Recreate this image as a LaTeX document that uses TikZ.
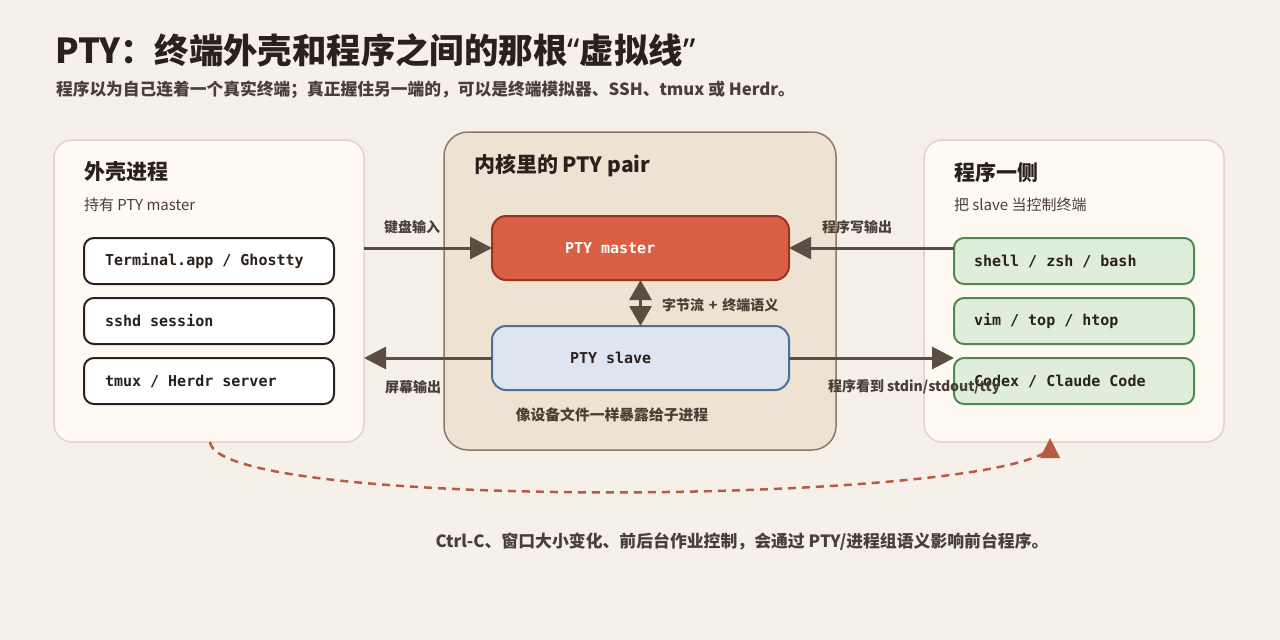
\documentclass[tikz,border=0pt]{standalone}
\usepackage{fontspec}
\setmainfont{Noto Sans CJK SC}
\setmonofont{DejaVu Sans Mono}
\newfontfamily\latinq{Noto Sans}
\usetikzlibrary{arrows.meta}
\definecolor{bgcol}{HTML}{F5F1EA}
\definecolor{ink}{HTML}{2A211C}
\definecolor{subink}{HTML}{4A3F37}
\definecolor{panelfill}{HTML}{FEFAF3}
\definecolor{panelline}{HTML}{E0D4C2}
\definecolor{kfill}{HTML}{EEE2D2}
\definecolor{kline}{HTML}{8B7867}
\definecolor{mfill}{HTML}{D95F45}
\definecolor{mline}{HTML}{9A3322}
\definecolor{sfill}{HTML}{DFE5F0}
\definecolor{sline}{HTML}{4E6F96}
\definecolor{gfill}{HTML}{DFEEDB}
\definecolor{gline}{HTML}{4E8A4E}
\definecolor{arrcol}{HTML}{5B4D43}
\definecolor{dashcol}{HTML}{B85A44}
\newcommand\monofont{\ttfamily\bfseries\fontsize{15}{18}\selectfont}
\newcommand\msp{\hbox to 0.602em{}}
\begin{document}
\begin{tikzpicture}[x=1pt,y=-1pt,
  every node/.style={inner sep=0pt, outer sep=0pt},
  panel/.style={draw=panelline, fill=panelfill, line width=1.5pt, rounded corners=18pt, anchor=north west},
  kpanel/.style={draw=kline, fill=kfill, line width=1.5pt, rounded corners=24pt, anchor=north west},
  shellbox/.style={draw=ink, fill=white, line width=2pt, rounded corners=10pt, anchor=north west,
    inner xsep=21pt, text width=208pt, minimum height=46pt, align=left, text=ink, font=\monofont},
  progbox/.style={draw=gline, fill=gfill, line width=2pt, rounded corners=10pt, anchor=north west,
    inner xsep=20pt, text width=200pt, minimum height=46pt, align=left, text=ink, font=\monofont},
  ptybox/.style={line width=2pt, rounded corners=14pt, anchor=north west, minimum height=64pt,
    align=left, font=\monofont},
  ptitle/.style={anchor=west, text=ink, font=\bfseries\fontsize{21}{25}\selectfont},
  psub/.style={anchor=west, text=subink, font=\fontsize{15}{18}\selectfont},
  lbl/.style={text=subink, font=\bfseries\fontsize{14}{17}\selectfont},
  arr/.style={draw=arrcol, line width=3pt, -{Triangle[length=22pt,width=22pt]}},
]
\fill[bgcol] (0,0) rectangle (1280,640);
\useasboundingbox (0,0) rectangle (1280,640);

% titles
\node[anchor=west, text=ink, font=\bfseries\fontsize{34.4}{41}\selectfont] (title) at (55,50) {PTY：终端外壳和程序之间的那根{\latinq “}虚拟线{\latinq ”}};
\node[anchor=west, text=subink, font=\bfseries\fontsize{16.75}{20}\selectfont] (subtitle) at (56,90) {程序以为自己连着一个真实终端；真正握住另一端的，可以是终端模拟器、SSH、tmux 或 Herdr。};

% panels
\node[panel, minimum width=310pt, minimum height=302pt] (left) at (54,140) {};
\node[kpanel, minimum width=392pt, minimum height=318pt] (kernel) at (444,132) {};
\node[panel, minimum width=300pt, minimum height=302pt] (right) at (924,140) {};

\node[ptitle] (lt) at (84,172) {外壳进程};
\node[psub] (ls) at (84,205) {持有 PTY master};
\node[ptitle] (kt) at (474,166) {内核里的 PTY pair};
\node[ptitle] (rt) at (954,172) {程序一侧};
\node[psub] (rs) at (954,205) {把 slave 当控制终端};

% left boxes
\node[shellbox] (term) at (84,238) {Terminal.app\msp/\msp Ghostty};
\node[shellbox] (sshd) at (84,298) {sshd\msp session};
\node[shellbox] (tmux) at (84,358) {tmux\msp/\msp Herdr\msp server};

% right boxes
\node[progbox] (shell) at (954,238) {shell\msp/\msp zsh\msp/\msp bash};
\node[progbox] (vim) at (954,298) {vim\msp/\msp top\msp/\msp htop};
\node[progbox] (codex) at (954,358) {Codex\msp/\msp Claude\msp Code};

% pty pair
\node[ptybox, draw=mline, fill=mfill, text=white, inner xsep=73pt, text width=151pt] (master) at (492,216) {PTY\msp master};
\node[ptybox, draw=sline, fill=sfill, text=ink, inner xsep=78pt, text width=141pt] (slave) at (492,326) {PTY\msp slave};

\draw[draw=arrcol, line width=3pt, {Triangle[length=20pt,width=22pt]}-{Triangle[length=20pt,width=22pt]}] (master.south) -- (slave.north);
\node[lbl, anchor=west] (bytes) at (662,305) {字节流\hspace{0.35em}+\hspace{0.35em}终端语义};
\node[lbl, font=\bfseries\fontsize{14.8}{18}\selectfont] (dev) at (612,415) {像设备文件一样暴露给子进程};

% arrows
\draw[arr] (left.east |- master.west) -- (master.west);
\node[lbl] (kb) at (412,227) {键盘输入};
\draw[arr] (shell.west |- master.east) -- (master.east);
\node[lbl] (pw) at (857,227) {程序写输出};
\draw[arr] (slave.west) -- (slave.west -| left.east);
\node[lbl] (so) at (413,387) {屏幕输出};
\draw[arr] (slave.east) -- (slave.east -| codex.west);
\node[lbl, anchor=west] (ps) at (828,387) {程序看到 stdin/stdout/tty};

% dashed signal curve
\coordinate (cs) at (210,442);
\coordinate (ce) at (1046,452);
\draw[dashcol, line width=2.5pt, dash pattern=on 8pt off 6pt] (cs) .. controls (218,510) and (960,505) .. (ce);
\fill[dashcol] (1040,458) -- (1060,458) -- (1050,438) -- cycle;

\node[text=subink, font=\bfseries\fontsize{16.85}{20}\selectfont] (bottom) at (742,542) {Ctrl-C、窗口大小变化、前后台作业控制，会通过 PTY/进程组语义影响前台程序。};
\end{tikzpicture}
\end{document}
